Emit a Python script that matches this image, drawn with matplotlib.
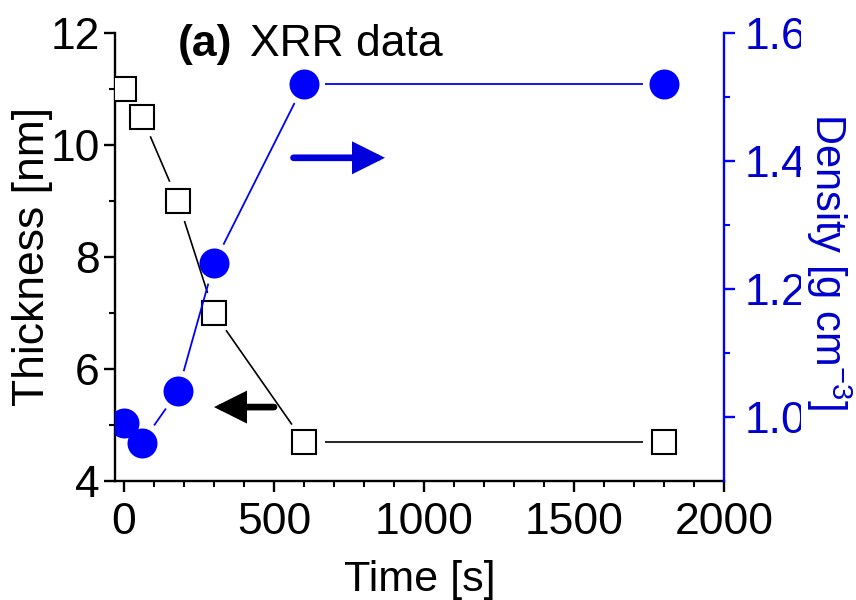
import numpy as np
import matplotlib
matplotlib.use("Agg")
import matplotlib.pyplot as plt
from matplotlib.collections import LineCollection
from matplotlib.patches import Rectangle

plt.rcParams["font.family"] = ["Liberation Sans", "DejaVu Sans"]

# XRR results: film thickness and density versus annealing time
time_thickness = [0, 60, 180, 300, 600, 1800]
thickness_nm = [11.0, 10.5, 9.0, 7.0, 4.7, 4.7]
time_density = [0, 60, 180, 300, 600, 1800]
density_gcm3 = [0.99, 0.96, 1.04, 1.24, 1.52, 1.52]

x_ticks = [0, 500, 1000, 1500, 2000]
left_ticks = [4, 6, 8, 10, 12]
right_ticks = [1.0, 1.2, 1.4, 1.6]

BLUE = "#0000FF"
TEXT_BLUE = "#0000CC"
TICK_FS = 32
LABEL_FS = 31


def gapped_line(ax, xs, ys, gap_px, **kw):
    """Connect points with segments that stop short of each marker."""
    pts = ax.transData.transform(np.column_stack([xs, ys]))
    inv = ax.transData.inverted()
    segs = []
    for p0, p1 in zip(pts[:-1], pts[1:]):
        d = p1 - p0
        length = np.hypot(*d)
        if length <= 2 * gap_px:
            continue
        u = d / length
        segs.append(inv.transform([p0 + u * gap_px, p1 - u * gap_px]))
    lc = LineCollection(segs, **kw)
    ax.add_collection(lc)
    return lc


fig = plt.figure(figsize=(8.56, 6.0), dpi=100)
ax = fig.add_axes([115 / 856, 1 - 481 / 600, (724 - 115) / 856, (481 - 33) / 600])
ax2 = ax.twinx()

ax.set_xlim(-30, 2000)
ax.set_ylim(4, 12)
ax2.set_ylim(0.9, 1.6)

# thickness (left axis)
gapped_line(ax, time_thickness, thickness_nm, 21, colors="black", linewidths=1.2, zorder=2)
ax.plot(time_thickness, thickness_nm, ls="none", marker="s", ms=17, mfc="white",
        mec="black", mew=1.5, zorder=3)

# density (right axis)
gapped_line(ax2, time_density, density_gcm3, 21, colors=BLUE, linewidths=1.3, zorder=2)
ax2.plot(time_density, density_gcm3, ls="none", marker="o", ms=21.6, mfc=BLUE,
         mec=BLUE, mew=0, zorder=3)

# arrows pointing to the matching axis
ax.annotate("", xy=(300, 5.32), xytext=(500, 5.32),
            arrowprops=dict(arrowstyle="-|>,head_length=0.8,head_width=0.4",
                            mutation_scale=20, lw=4.8, color="black",
                            shrinkA=0, shrinkB=0, capstyle="round", joinstyle="miter"))
ax2.annotate("", xy=(870, 1.405), xytext=(565, 1.405),
             arrowprops=dict(arrowstyle="-|>,head_length=0.8,head_width=0.4",
                             mutation_scale=20, lw=4.8, color="#0000DD",
                             shrinkA=0, shrinkB=0, capstyle="round", joinstyle="miter"))

# spines
for s in ("top", "right"):
    ax.spines[s].set_visible(False)
for s in ("top", "left", "bottom"):
    ax2.spines[s].set_visible(False)
ax.spines["left"].set_linewidth(1.7)
ax.spines["bottom"].set_linewidth(1.7)
ax2.spines["right"].set_linewidth(1.7)
ax2.spines["right"].set_color(BLUE)

# ticks
ax.set_xticks(x_ticks)
ax.set_xticks(np.arange(100, 2000, 100), minor=True)
ax.set_yticks(left_ticks)
ax.set_yticks([5, 7, 9, 11], minor=True)
ax2.set_yticks(right_ticks)
ax2.set_yticklabels([f"{v:.1f}" for v in right_ticks])
ax2.set_yticks([1.1, 1.3, 1.5], minor=True)

ax.tick_params(axis="both", which="major", direction="out", length=8, width=1.7,
               labelsize=TICK_FS, pad=3)
ax.tick_params(axis="both", which="minor", direction="out", length=4, width=1.5)
ax.tick_params(axis="x", which="major", pad=7)
ax2.tick_params(axis="y", which="major", direction="out", length=8, width=1.7,
                color=BLUE, labelcolor=TEXT_BLUE, labelsize=TICK_FS, pad=7)
ax2.tick_params(axis="y", which="minor", direction="out", length=4, width=1.5, color=BLUE)

ax.set_xlabel("Time [s]", fontsize=LABEL_FS, labelpad=12)
ax.set_ylabel("Thickness [nm]", fontsize=LABEL_FS + 1, labelpad=-2)

# right-hand margin strip with the density axis title on top
fig.patches.append(Rectangle((801 / 856, 0), 1, 1, transform=fig.transFigure,
                             facecolor="white", edgecolor="none", zorder=5))
fig.text(829 / 856, 1 - 262 / 600, "Density [g cm$^{\\mathregular{-3}}$]", rotation=270,
         ha="center", va="center", fontsize=LABEL_FS - 1, color=TEXT_BLUE, zorder=6)

# panel title
fig.text(178 / 856, 1 - 56 / 600, "(a)", fontsize=32, fontweight="bold",
         ha="left", va="baseline")
fig.text(250 / 856, 1 - 56 / 600, "XRR data", fontsize=32, ha="left", va="baseline")

fig.savefig("out.png", dpi=100)
